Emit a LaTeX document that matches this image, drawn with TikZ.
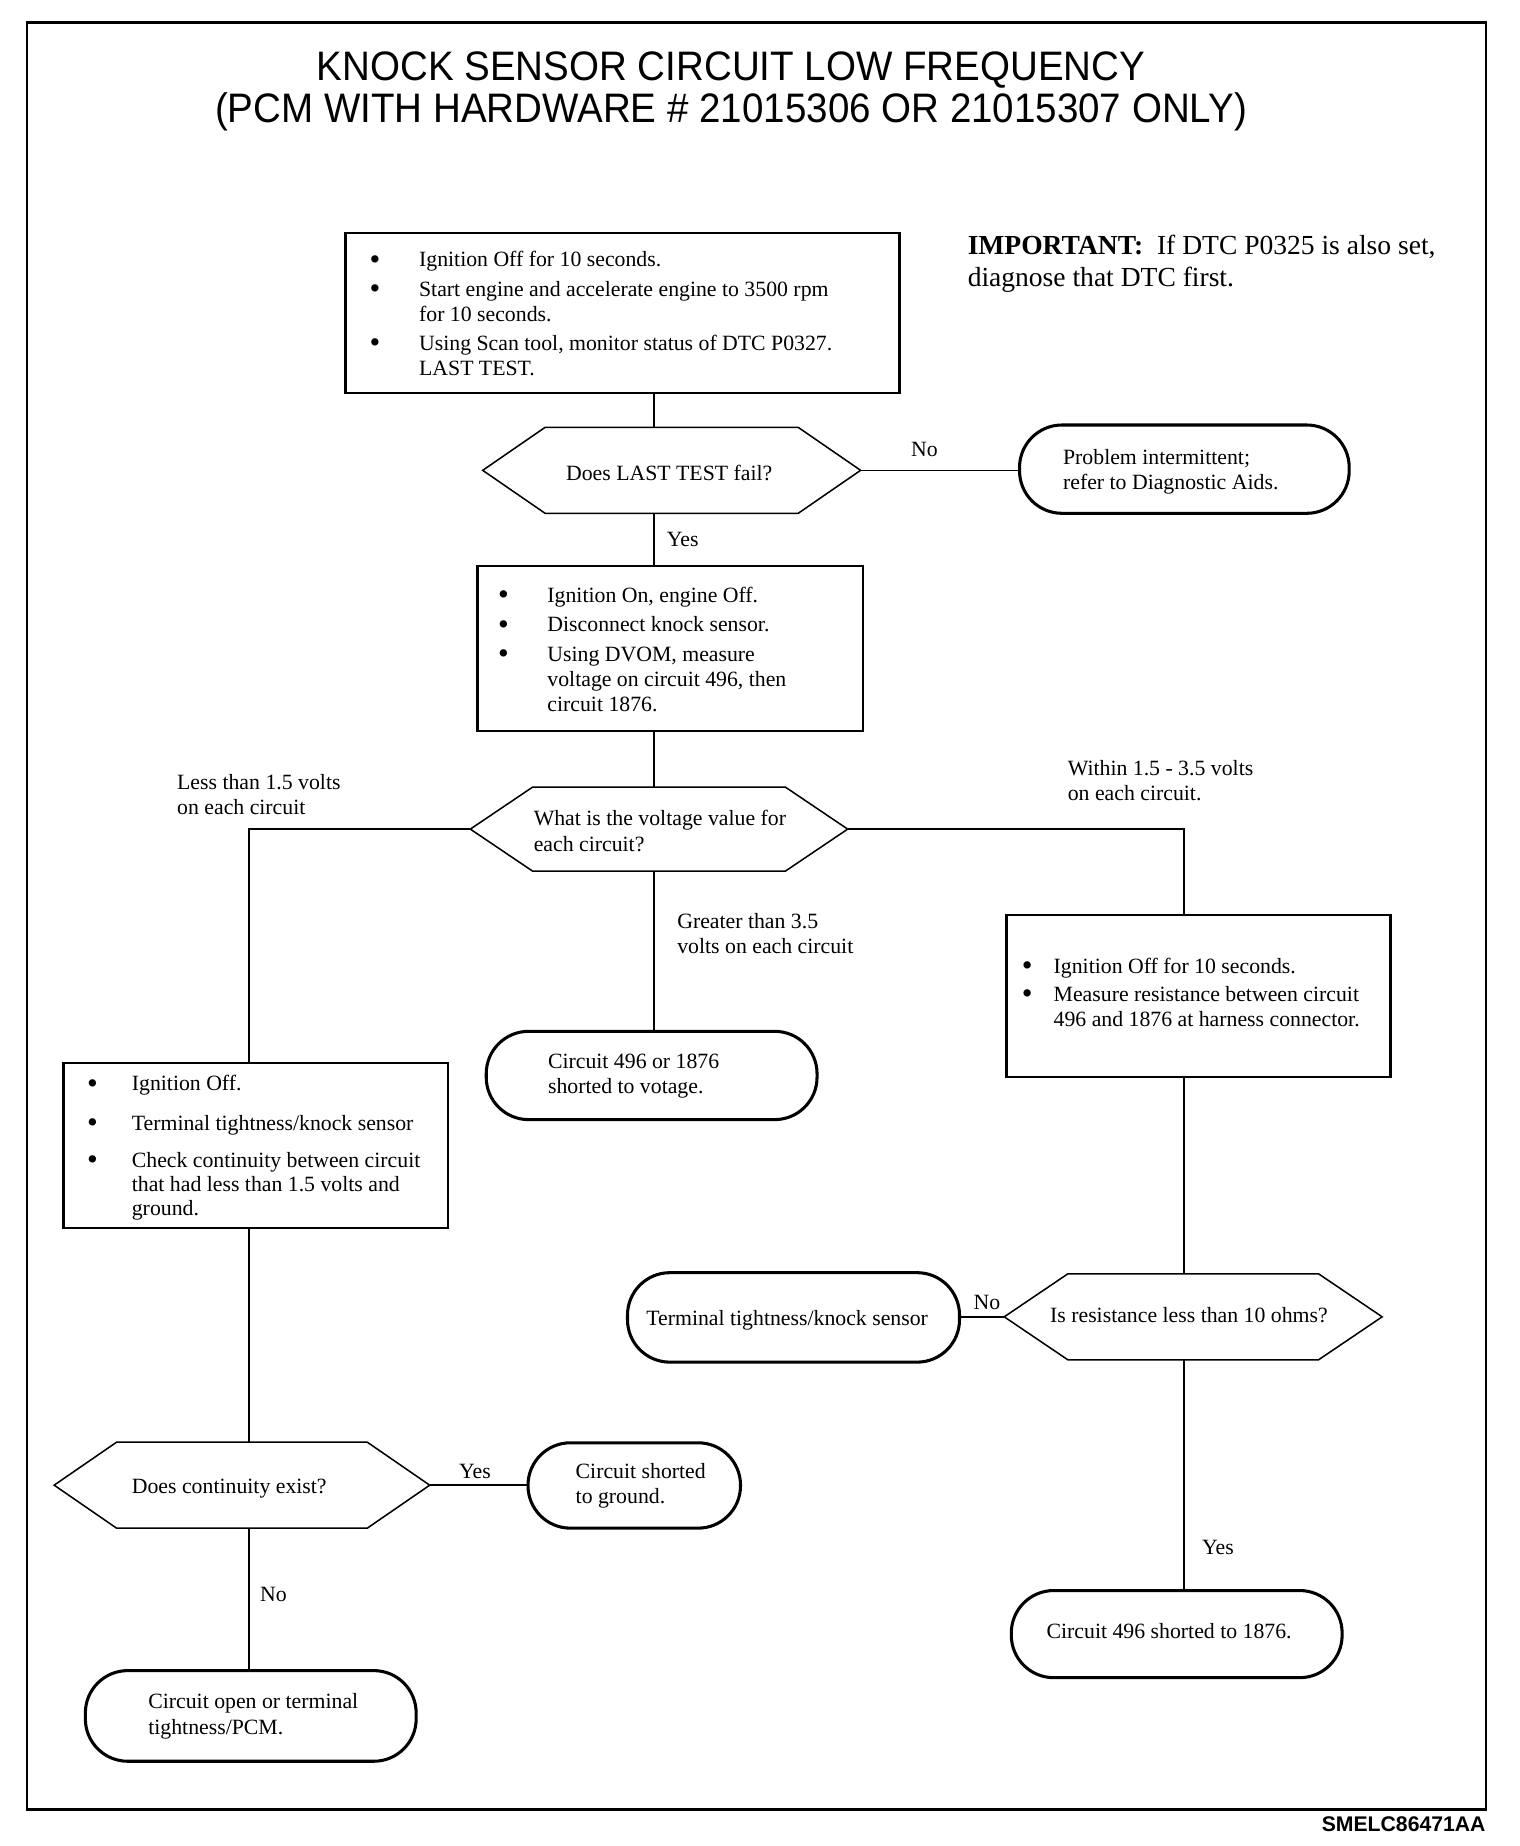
\documentclass[tikz,border=0pt]{standalone}
\usepackage{fontspec}
\setmainfont{Liberation Serif}
\newfontfamily\arialf{Liberation Sans}
\newfontfamily\arialn[FakeStretch=0.935]{Liberation Sans}
\usetikzlibrary{calc}
\tikzset{
  frame/.style={draw, line width=2pt},
  stepbox/.style={draw, line width=2pt, rectangle, inner sep=0pt, outer sep=0pt},
  termnode/.style={draw, line width=2.6pt, rectangle, rounded corners=36pt, inner sep=0pt, outer sep=0pt},
  hexnode/.style={rectangle, inner sep=0pt, outer sep=0pt},
  hexline/.style={draw, line width=1.3pt, line join=miter},
  conn/.style={draw, line width=1.3pt},
  txt/.style={inner sep=0pt, outer sep=0pt, anchor=base west, font=\fontsize{18.5}{21.5}\selectfont},
}
\newcommand\hexdraw[2]{% name, inset
  \draw[hexline] (#1.west) -- ([xshift=#2pt]#1.north west) -- ([xshift=-#2pt]#1.north east) -- (#1.east)
    -- ([xshift=-#2pt]#1.south east) -- ([xshift=#2pt]#1.south west) -- cycle;}
\newlength\bulw
\newcommand\bul{\makebox[\bulw][l]{\hspace{-1pt}\smash{\raisebox{-2.2pt}{\fontsize{26}{20}\selectfont\textbullet}}}}
\begin{document}
\begin{tikzpicture}[x=1pt,y=-1pt]
\useasboundingbox (0,0) rectangle (1291,1568);
\draw[frame] (23,19) rectangle (1262,1537);

% title
\node[inner sep=0pt, anchor=base, font=\arialn\fontsize{35}{40}\selectfont] (title1) at (621,68) {KNOCK SENSOR CIRCUIT LOW FREQUENCY};
\node[inner sep=0pt, anchor=base, font=\arialn\fontsize{35}{40}\selectfont] (title2) at (621,104) {(PCM WITH HARDWARE \# 21015306 OR 21015307 ONLY)};

% important note
\node[txt, font=\fontsize{23.4}{27}\selectfont] (imp) at (822,216) {\begin{tabular}[t]{@{}l@{}}\textbf{IMPORTANT:}\ \ If DTC P0325 is also set,\\ diagnose that DTC first.\end{tabular}};

% boxes
\node[stepbox, minimum width=470.5pt, minimum height=136pt] (b1) at (528.75,266) {};
\node[stepbox, minimum width=327.5pt, minimum height=140pt] (b2) at (569.25,551) {};
\node[stepbox, minimum width=326.5pt, minimum height=140pt] (b3) at (217.25,973) {};
\node[stepbox, minimum width=326pt, minimum height=138pt] (b4) at (1018,846) {};

% hexagons
\node[hexnode, minimum width=321pt, minimum height=73pt] (h1) at (570.5,399.5) {};
\hexdraw{h1}{53}
\node[hexnode, minimum width=320.5pt, minimum height=71.5pt] (h2) at (559.75,704.25) {};
\hexdraw{h2}{53}
\node[hexnode, minimum width=319pt, minimum height=73pt] (h3) at (205.5,1261.5) {};
\hexdraw{h3}{53}
\node[hexnode, minimum width=321pt, minimum height=73pt] (h4) at (1013.5,1118.5) {};
\hexdraw{h4}{54}

% terminals
\node[termnode, minimum width=280pt, minimum height=75pt] (t1) at (1006,398.5) {};
\node[termnode, minimum width=281pt, minimum height=75pt] (t2) at (553.5,913.5) {};
\node[termnode, minimum width=180.5pt, minimum height=72.5pt] (t3) at (538.75,1261.75) {};
\node[termnode, minimum width=281pt, minimum height=77pt] (t4) at (213,1457.5) {};
\node[termnode, minimum width=282pt, minimum height=76pt] (t5) at (674,1119) {};
\node[termnode, minimum width=281pt, minimum height=74pt] (t6) at (999.5,1388) {};

% connectors
\coordinate (spine) at (555.5,0);
\coordinate (lsp) at (211.5,0);
\coordinate (rsp) at (1005.5,0);
\draw[conn] (spine |- b1.south) -- (spine |- h1.north);
\draw[conn] (h1.east) -- (h1.east -| t1.west);
\draw[conn] (spine |- h1.south) -- (spine |- b2.north);
\draw[conn] (spine |- b2.south) -- (spine |- h2.north);
\draw[conn] (h2.west) -| (lsp |- b3.north);
\draw[conn] (h2.east) -| (rsp |- b4.north);
\draw[conn] (spine |- h2.south) -- (spine |- t2.north);
\draw[conn] (lsp |- b3.south) -- (lsp |- h3.north);
\draw[conn] (h3.east) -- (h3.east -| t3.west);
\draw[conn] (lsp |- h3.south) -- (lsp |- t4.north);
\draw[conn] (rsp |- b4.south) -- (rsp |- h4.north);
\draw[conn] (h4.west) -- (h4.west -| t5.east);
\draw[conn] (rsp |- h4.south) -- (rsp |- t6.north);

% box texts
\setlength\bulw{41pt}
\node[txt] (b1t) at (315,226.5) {\begin{tabular}[t]{@{}l@{}l@{}}
\bul & Ignition Off for 10 seconds.\\[3.5pt]
\bul & Start engine and accelerate engine to 3500 rpm\\
 & for 10 seconds.\\[3pt]
\bul & Using Scan tool, monitor status of DTC P0327.\\
 & LAST TEST.\end{tabular}};
\node[txt] (b2t) at (424,511.5) {\begin{tabular}[t]{@{}l@{}l@{}}
\bul & Ignition On, engine Off.\\[3.5pt]
\bul & Disconnect knock sensor.\\[3.5pt]
\bul & Using DVOM, measure\\
 & voltage on circuit 496, then\\
 & circuit 1876.\end{tabular}};
\setlength\bulw{37pt}
\node[txt, font=\fontsize{18.5}{20.5}\selectfont] (b3t) at (75,926.5) {\begin{tabular}[t]{@{}l@{}l@{}}
\bul & Ignition Off.\\[13pt]
\bul & Terminal tightness/knock sensor\\[11pt]
\bul & Check continuity between circuit\\
 & that had less than 1.5 volts and\\
 & ground.\end{tabular}};
\setlength\bulw{26pt}
\node[txt] (b4t) at (869,826.5) {\begin{tabular}[t]{@{}l@{}l@{}}
\bul & Ignition Off for 10 seconds.\\[2.5pt]
\bul & Measure resistance between circuit\\
 & 496 and 1876 at harness connector.\end{tabular}};

% hex texts
\node[txt] (h1t) at (480.8,408.5) {Does LAST TEST fail?};
\node[txt] (h2t) at (453.4,701.5) {\begin{tabular}[t]{@{}l@{}}What is the voltage value for\\ each circuit?\end{tabular}};
\node[txt] (h3t) at (112,1268.5) {Does continuity exist?};
\node[txt] (h4t) at (892,1123.5) {Is resistance less than 10 ohms?};

% terminal texts
\node[txt] (t1t) at (903,394.5) {\begin{tabular}[t]{@{}l@{}}Problem intermittent;\\ refer to Diagnostic Aids.\end{tabular}};
\node[txt] (t2t) at (465.5,907.5) {\begin{tabular}[t]{@{}l@{}}Circuit 496 or 1876\\ shorted to votage.\end{tabular}};
\node[txt] (t3t) at (489,1255.5) {\begin{tabular}[t]{@{}l@{}}Circuit shorted\\ to ground.\end{tabular}};
\node[txt] (t4t) at (126,1451.5) {\begin{tabular}[t]{@{}l@{}}Circuit open or terminal\\ tightness/PCM.\end{tabular}};
\node[txt] (t5t) at (549,1125.5) {Terminal tightness/knock sensor};
\node[txt] (t6t) at (889,1391.5) {Circuit 496 shorted to 1876.};

% connector labels
\node[txt] (l1) at (774,388) {No};
\node[txt] (l2) at (566.5,464) {Yes};
\node[txt] (l3) at (150.5,670.5) {\begin{tabular}[t]{@{}l@{}}Less than 1.5 volts\\ on each circuit\end{tabular}};
\node[txt] (l4) at (907,658.5) {\begin{tabular}[t]{@{}l@{}}Within 1.5 - 3.5 volts\\ on each circuit.\end{tabular}};
\node[txt] (l5) at (575.3,788.5) {\begin{tabular}[t]{@{}l@{}}Greater than 3.5\\ volts on each circuit\end{tabular}};
\node[txt] (l6) at (827,1112.5) {No};
\node[txt] (l7) at (390,1255.5) {Yes};
\node[txt] (l8) at (221,1360.5) {No};
\node[txt] (l9) at (1021,1320.5) {Yes};

\node[inner sep=0pt, anchor=base east, font=\arialf\bfseries\fontsize{18}{20}\selectfont] (code) at (1262,1556) {SMELC86471AA};
\end{tikzpicture}
\end{document}
